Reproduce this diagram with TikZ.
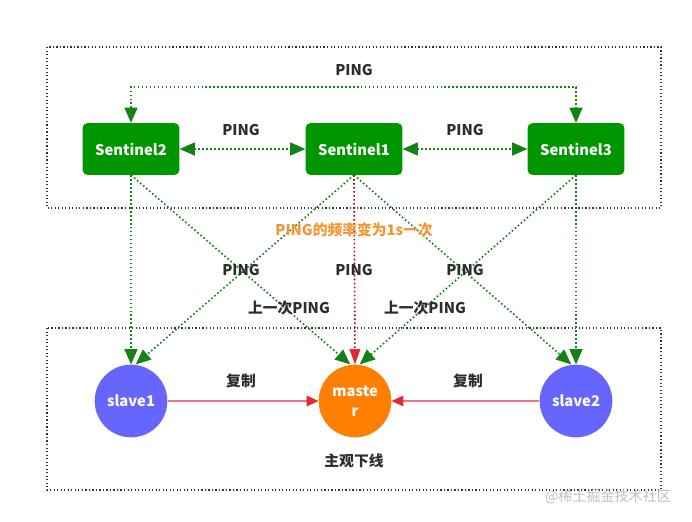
\documentclass[tikz,border=0pt]{standalone}
\usepackage{fontspec}
\setmainfont{Noto Sans CJK SC}
\usepackage{xcolor}
\usetikzlibrary{arrows.meta, shapes.geometric}
\definecolor{sentGreen}{RGB}{0,150,0}
\definecolor{pingGreen}{RGB}{20,130,20}
\definecolor{slaveBlue}{RGB}{102,102,255}
\definecolor{masterOrange}{RGB}{255,128,0}
\definecolor{noteOrange}{RGB}{240,150,50}
\definecolor{replPink}{RGB}{228,120,135}
\definecolor{replRed}{RGB}{225,40,55}
\definecolor{downRed}{RGB}{170,0,30}
\definecolor{txtGray}{RGB}{45,45,45}

\begin{document}
\begin{tikzpicture}[x=0.03cm, y=-0.03cm,
    every node/.style={font=\fontsize{12.6}{15}\selectfont\bfseries, text=txtGray},
    sentinel/.style={rectangle, rounded corners=4pt, fill=sentGreen, text=white,
      minimum width=2.9cm, minimum height=1.55cm},
    redis/.style={circle, minimum size=2.18cm, inner sep=0pt, text=white, align=center},
    ping/.style={pingGreen, line width=1.4pt, dash pattern=on 1.4pt off 2pt,
      -{Triangle[length=13pt, width=11pt]}},
    region/.style={black!80, line width=1pt, dash pattern=on 1pt off 2pt}]
  \useasboundingbox (0,0) rectangle (692,521);
  \draw[region] (47,47) rectangle (661,208);
  \draw[region] (47,328) rectangle (661,490);

  \node[sentinel] (s2) at (131,149) {Sentinel2};
  \node[sentinel] (s1) at (354,149) {Sentinel1};
  \node[sentinel] (s3) at (576,149) {Sentinel3};
  \node[redis, fill=slaveBlue] (slave1) at (131,401) {slave1};
  \node[redis, fill=masterOrange] (master) at (355,401) {maste\\[2pt]r};
  \node[redis, fill=slaveBlue] (slave2) at (576,401) {slave2};
  \coordinate (pingtop) at (354,87);

  \draw[ping, {Triangle[length=13pt, width=11pt]}-{Triangle[length=13pt, width=11pt]}]
    (s2.north) -- (s2.north |- pingtop) -| (s3.north);
  \draw[ping, {Triangle[length=13pt, width=11pt]}-{Triangle[length=13pt, width=11pt]}]
    (s2) -- (s1);
  \draw[ping, {Triangle[length=13pt, width=11pt]}-{Triangle[length=13pt, width=11pt]}]
    (s1) -- (s3);
  \draw[ping] (s2.south) -- (slave1.north);
  \draw[ping] (s2.south) -- ([xshift=-4]master.north);
  \draw[ping] (s1.south) -- ([xshift=4]slave1.north);
  \draw[downRed, line width=1.4pt, dash pattern=on 1.4pt off 2pt,
    -{Triangle[length=13pt, width=9pt, color=replRed]}] (s1.south) -- (master.north);
  \draw[ping] (s1.south) -- ([xshift=-4]slave2.north);
  \draw[ping] (s3.south) -- ([xshift=4]master.north);
  \draw[ping] (s3.south) -- (slave2.north);
  \draw[replPink, line width=1.1pt, -{Triangle[length=10pt, width=9pt, color=replRed]}]
    (slave1) -- (master);
  \draw[replPink, line width=1.1pt, -{Triangle[length=10pt, width=9pt, color=replRed]}]
    (slave2) -- (master);

  \node (ping23) at (354,70) {PING};
  \node (ping21) at (241,130) {PING};
  \node (ping13) at (465,130) {PING};
  \node[text=noteOrange] (freq) at (354,230) {PING的频率变为1s一次};
  \node (pingL) at (241,270) {PING};
  \node (pingM) at (354,270) {PING};
  \node (pingR) at (465,270) {PING};
  \node (lastL) at (289,308) {上一次PING};
  \node (lastR) at (425,308) {上一次PING};
  \node (repL) at (241,381) {复制};
  \node (repR) at (468,381) {复制};
  \node (sdown) at (354,461) {主观下线};
  \node[text=black!25, font=\fontsize{12}{14}\selectfont] (mark) at (608,497) {@稀土掘金技术社区};
\end{tikzpicture}
\end{document}
